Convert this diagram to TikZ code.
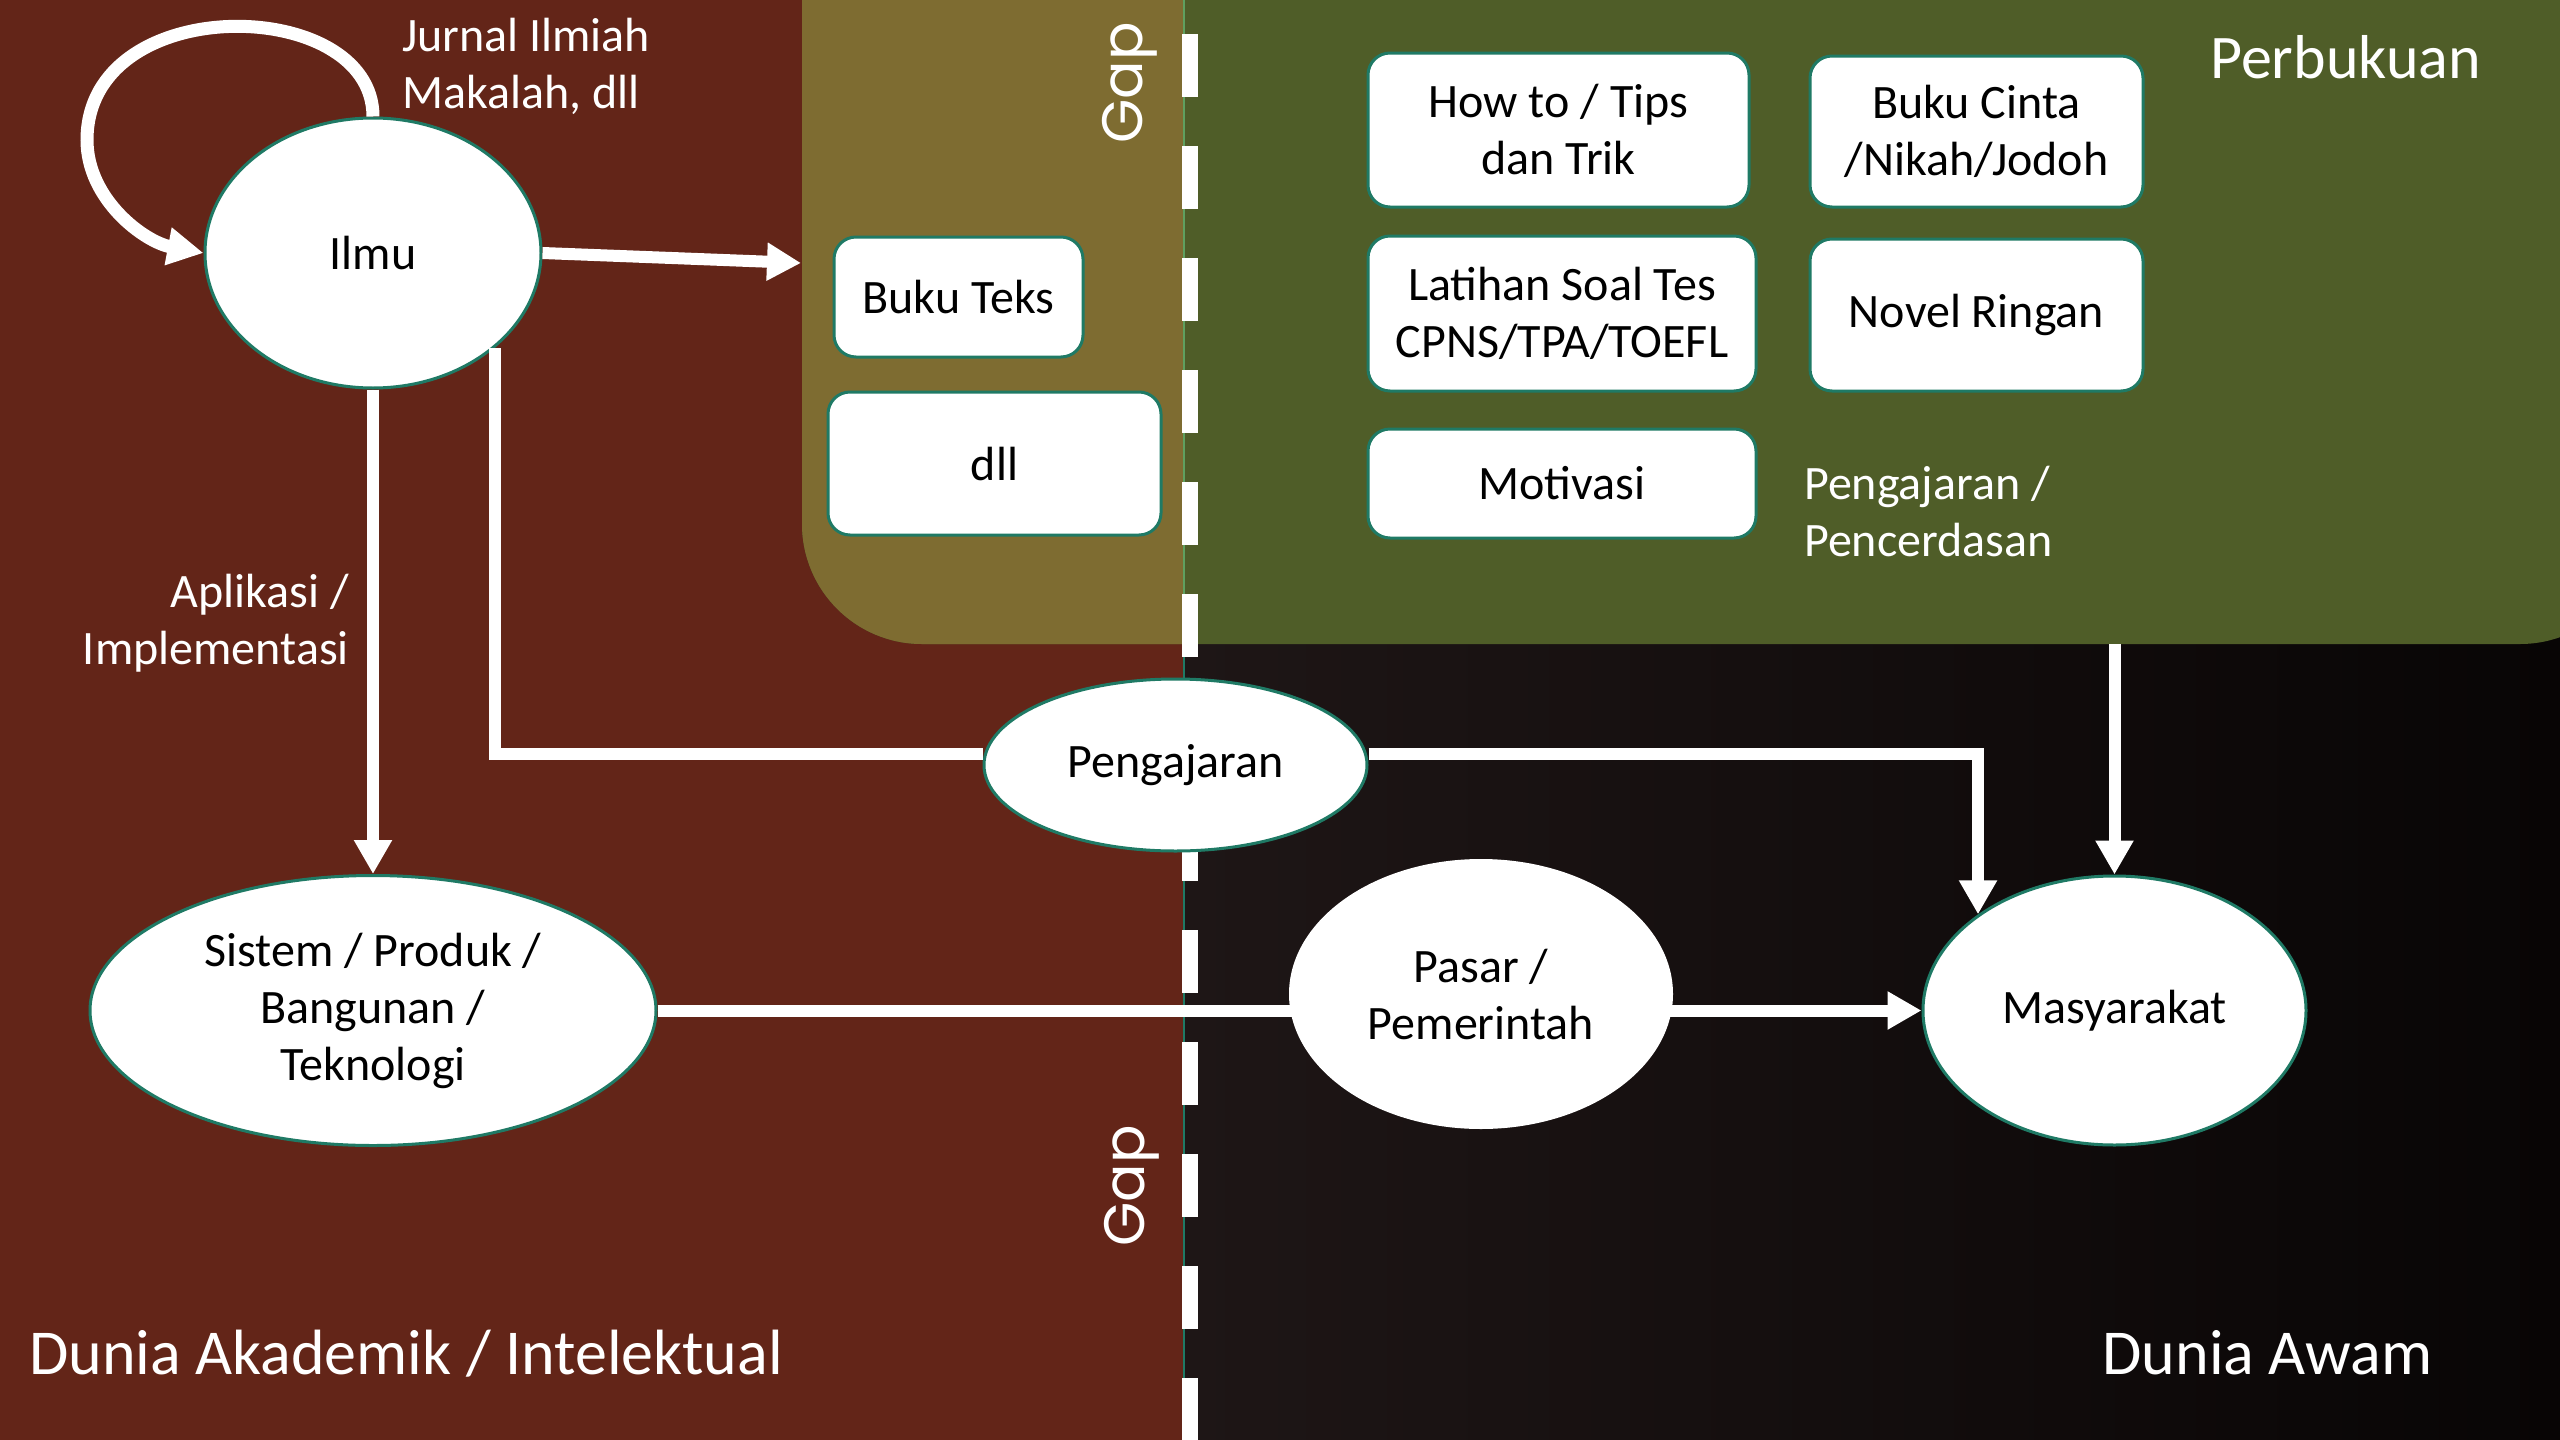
\documentclass[tikz,border=0pt]{standalone}
\usepackage{fontspec}
\setmainfont{Carlito}
\newfontfamily\gapfont{Poppins}
\usetikzlibrary{shapes.geometric,arrows.meta,calc}
\definecolor{brownbg}{RGB}{99,37,24}
\definecolor{olivebg}{RGB}{126,108,49}
\definecolor{greenbg}{RGB}{79,93,40}
\definecolor{blkA}{RGB}{30,22,22}
\definecolor{blkB}{RGB}{8,5,5}
\definecolor{tealb}{RGB}{31,122,101}
\definecolor{lgreen}{RGB}{95,160,95}
\newcommand\myfs{\fontsize{48}{57}\selectfont}
\newcommand\myfsL{\fontsize{62}{72}\selectfont}
\newcommand\myfsXL{\fontsize{64}{74}\selectfont}
\newcommand\myfsGap{\gapfont\fontsize{57}{64}\selectfont}
\begin{document}
\begin{tikzpicture}[x=1pt,y=-1pt,
  box/.style={draw=tealb, line width=3pt, fill=white, rounded corners=22pt, inner sep=0pt, align=center, font=\myfs, text=black},
  ell/.style={ellipse, draw=tealb, line width=3pt, fill=white, inner sep=0pt, align=center, font=\myfs, text=black},
  lbl/.style={text=white, font=\myfs, inner sep=0pt},
  conn/.style={draw=white, line width=12pt},
  arr/.style={conn, -{Triangle[length=34pt,width=36pt]}},
  gapdash/.style={draw=white, line width=16pt, dash pattern=on 63pt off 49pt}
]
\useasboundingbox (0,0) rectangle (2560,1440);
% backgrounds
\fill[brownbg] (0,0) rectangle (1184,1440);
\shade[left color=blkA, right color=blkB] (1184,0) rectangle (2560,1440);
\fill[greenbg, rounded corners=120pt] (802,-300) rectangle (2640,644);
\begin{scope}
  \clip (0,-10) rectangle (1184,700);
  \fill[olivebg, rounded corners=120pt] (802,-300) rectangle (2640,644);
\end{scope}
\draw[lgreen, line width=2pt] (1184,0) -- (1184,644);
\draw[tealb, line width=2pt] (1184,644) -- (1184,1440);
% gap dashed line
\draw[gapdash] (1190,34) -- (1190,1440);
\node[text=white, font=\myfsGap, rotate=90, inner sep=0pt] (gapT) at (1130,83) {Gap};
\node[text=white, font=\myfsGap, rotate=90, inner sep=0pt] (gapB) at (1132,1186) {Gap};
% region labels
\node[text=white, font=\myfsL, inner sep=0pt, anchor=base west] (perb) at (2210,78) {Perbukuan};
\node[text=white, font=\myfsXL, inner sep=0pt, anchor=base west] (dak) at (29,1374) {Dunia Akademik / Intelektual};
\node[text=white, font=\myfsXL, inner sep=0pt, anchor=base east] (daw) at (2433,1374) {Dunia Awam};
% boxes
\node[box, minimum width=249pt, minimum height=120pt] (buku) at (958.5,297) {Buku Teks};
\node[box, minimum width=333pt, minimum height=143pt] (dll) at (994.5,463.5) {dll};
\node[box, minimum width=381pt, minimum height=154pt] (howto) at (1558.5,130) {How to / Tips\\dan Trik};
\node[box, minimum width=388pt, minimum height=155pt] (latihan) at (1562,313.5) {Latihan Soal Tes\\CPNS/TPA/TOEFL};
\node[box, minimum width=388pt, minimum height=109pt] (motiv) at (1562,483.5) {Motivasi};
\node[box, minimum width=333pt, minimum height=151pt] (cinta) at (1976.5,131.5) {Buku Cinta\\/Nikah/Jodoh};
\node[box, minimum width=333pt, minimum height=152pt] (novel) at (1976.5,315) {Novel Ringan};
\node[lbl, align=left, anchor=west] (pencer) at (1804,512) {Pengajaran /\\Pencerdasan};
% ellipses
\node[ell, minimum width=336pt, minimum height=270pt] (ilmu) at (373,253) {Ilmu};
\node[ell, minimum width=566pt, minimum height=270pt] (sis) at (373,1010.5) {Sistem / Produk /\\Bangunan /\\Teknologi};
\node[ell, minimum width=383pt, minimum height=269pt] (mas) at (2114.5,1010.5) {Masyarakat};
\node[lbl, align=left, anchor=west] (jurnal) at (402,66) {Jurnal Ilmiah\\Makalah, dll};
\node[lbl, align=right, anchor=east] (apl) at (349,623) {Aplikasi /\\Implementasi};
% connectors
\coordinate (oliveW) at (801,263);
\coordinate (perbB) at (2114.5,644);
\coordinate (loopL) at (87,140);
\draw[conn, line width=13pt, -{Triangle[length=36pt,width=36pt]}] (ilmu.north) .. controls (373,-5) and (87,-10) .. (loopL) .. controls (87,200) and (145,242) .. (ilmu.west);
\draw[arr] (ilmu.east) -- (oliveW);
\draw[arr] (ilmu) -- (sis);
\draw[arr] (perbB) -- (mas);
\draw[arr] (sis) -- (mas);
\node[ell, draw=none, minimum width=384pt, minimum height=270pt] (pasar) at (1481,994) {Pasar /\\Pemerintah};
\node[ell, minimum width=383pt, minimum height=172pt] (peng) at (1175.5,765) {Pengajaran};
\draw[conn] (ilmu.-38.6) |- ([yshift=11pt]peng.west);
\draw[arr] ([yshift=11pt]peng.east) -| (mas.north west);
\end{tikzpicture}
\end{document}
